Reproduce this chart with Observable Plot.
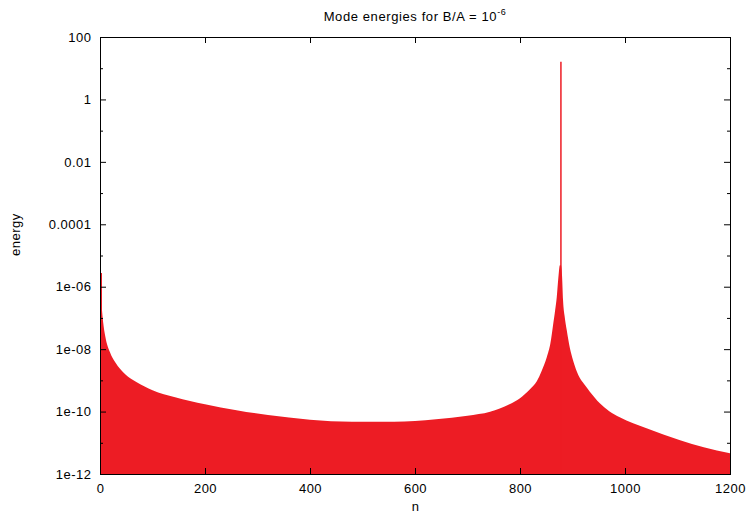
<!DOCTYPE html>
<html><head><meta charset="utf-8">
<script src="https://cdn.jsdelivr.net/npm/d3@7"></script>
<script src="https://cdn.jsdelivr.net/npm/@observablehq/plot@0.6"></script>
<style>
body{margin:0;background:#fff;font-family:"Liberation Sans",Arial,sans-serif;}
#wrap{position:relative;width:751px;height:517px;}
#title{position:absolute;top:9px;left:0;width:830px;text-align:center;font-size:13px;letter-spacing:0.6px;line-height:15px;color:#000;}
#title sup{font-size:9px;position:relative;top:-1px;line-height:0;}
</style></head><body><div id="wrap"><div id="title">Mode energies for B/A = 10<sup>-6</sup></div></div>
<script>
// mode number n and energy
const modeN = [0, 1, 3, 6, 10, 19, 29, 48, 70, 100, 143, 200, 260, 320, 400, 480, 560, 640, 700, 743, 780, 800, 819, 832, 841, 851, 858, 863, 867, 870, 872, 874, 875, 876, 877, 878, 879, 880, 882, 885, 889, 895, 901, 908, 914, 922, 933, 952, 970, 990, 1041, 1105, 1150, 1200];
const modeEnergy = [2.73e-6, 7.8e-7, 2.57e-7, 7.3e-8, 2.6e-8, 8.0e-9, 3.8e-9, 1.58e-9, 8.7e-10, 4.85e-10, 2.9e-10, 1.73e-10, 1.11e-10, 7.7e-11, 5.5e-11, 4.75e-11, 4.75e-11, 5.7e-11, 7.4e-11, 9.9e-11, 1.73e-10, 2.69e-10, 5.2e-10, 9.4e-10, 1.97e-9, 5.5e-9, 1.56e-8, 5.9e-8, 1.78e-7, 4.6e-7, 1.21e-6, 2.9e-6, 4.2e-6, 4.9e-6, 4.9e-6, 4.9e-6, 3.9e-6, 2.35e-6, 3.7e-7, 1.14e-7, 4.1e-8, 1.08e-8, 4.4e-9, 1.97e-9, 1.18e-9, 7.6e-10, 4.35e-10, 1.86e-10, 1.03e-10, 6.6e-11, 2.94e-11, 1.21e-11, 7.2e-12, 4.6e-12];
// resonant mode spike
const peakN = [877];
const peakEnergy = [16];
const yTicks = [100, 1, 0.01, 1e-4, 1e-6, 1e-8, 1e-10, 1e-12];
const yTickLabels = ["100", "1", "0.01", "0.0001", "1e-06", "1e-08", "1e-10", "1e-12"];
const yMinorTicks = [10, 0.1, 1e-3, 1e-5, 1e-7, 1e-9, 1e-11];
const xTicks = [0, 200, 400, 600, 800, 1000, 1200];
const xTickLabels = ["0", "200", "400", "600", "800", "1000", "1200"];

const W = 751, H = 517, mL = 100, mR = 21, mT = 37, mB = 43;
const fw = W - mL - mR, fh = H - mT - mB;
const red = "#ed1c24";
const data = modeN.map((n, i) => ({n, e: modeEnergy[i]}));
const peaks = peakN.map((n, i) => ({n, e: peakEnergy[i]}));

const chart = Plot.plot({
  width: W, height: H,
  marginLeft: mL, marginRight: mR, marginTop: mT, marginBottom: mB,
  style: {fontFamily: "Liberation Sans, Arial, sans-serif", fontSize: "13px", color: "#000", background: "#fff", letterSpacing: "0.5px"},
  x: {domain: [0, 1200]},
  y: {type: "log", domain: [1e-12, 100]},
  marks: [
    Plot.areaY(data, {x: "n", y1: 1e-12, y2: "e", fill: red, curve: "monotone-x"}),
    Plot.ruleX(data.slice(0, 1), {x: "n", y1: 1e-12, y2: "e", stroke: red, strokeWidth: 1.5, dx: 0.75}),
    Plot.ruleX(peaks, {x: "n", y1: 1e-12, y2: "e", stroke: red, strokeWidth: 1.5}),
    Plot.tickY(yTicks, {y: d => d, insetRight: fw - 6, stroke: "#000"}),
    Plot.tickY(yTicks, {y: d => d, insetLeft: fw - 6, stroke: "#000"}),
    Plot.tickY(yMinorTicks, {y: d => d, insetRight: fw - 3, stroke: "#000"}),
    Plot.tickY(yMinorTicks, {y: d => d, insetLeft: fw - 3, stroke: "#000"}),
    Plot.tickX(xTicks, {x: d => d, insetTop: fh - 6, stroke: "#000"}),
    Plot.tickX(xTicks, {x: d => d, insetBottom: fh - 6, stroke: "#000"}),
    Plot.axisY(yTicks, {anchor: "left", tickSize: 0, tickPadding: 9, tickFormat: d => yTickLabels[yTicks.indexOf(d)], label: null}),
    Plot.axisX(xTicks, {anchor: "bottom", tickSize: 0, tickPadding: 9, tickFormat: d => xTickLabels[xTicks.indexOf(d)], label: null}),
    Plot.text(["energy"], {frameAnchor: "left", dx: -85, rotate: -90, fontSize: 13}),
    Plot.text(["n"], {frameAnchor: "bottom", dy: 36, fontSize: 13}),
    Plot.frame({stroke: "#000", strokeWidth: 1})
  ]
});
document.getElementById("wrap").appendChild(chart);
</script>
</body></html>
